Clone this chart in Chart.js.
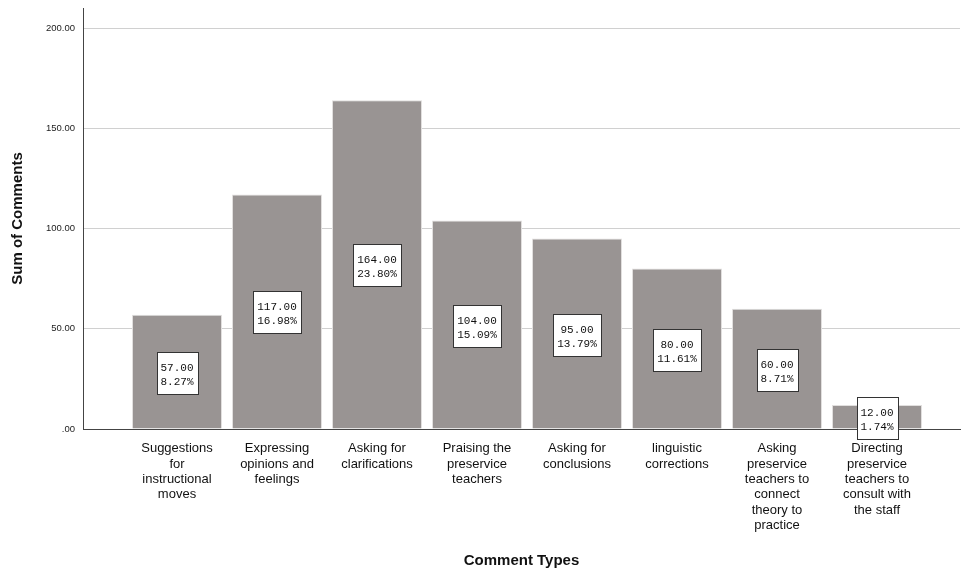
<!DOCTYPE html>
<html><head><meta charset="utf-8">
<script src="https://cdn.jsdelivr.net/npm/chart.js@4/dist/chart.umd.min.js"></script>
<style>html,body{margin:0;padding:0;background:#fff}#wrap{width:961px;height:572px}</style>
</head><body><div id="wrap"><canvas id="c" width="961" height="572"></canvas></div>
<script>
const categories = [
  ["Suggestions","for","instructional","moves"],
  ["Expressing","opinions and","feelings"],
  ["Asking for","clarifications"],
  ["Praising the","preservice","teachers"],
  ["Asking for","conclusions"],
  ["linguistic","corrections"],
  ["Asking","preservice","teachers to","connect","theory to","practice"],
  ["Directing","preservice","teachers to","consult with","the staff"]
];
const sums = [57, 117, 164, 104, 95, 80, 60, 12];
const percents = [8.27, 16.98, 23.80, 15.09, 13.79, 11.61, 8.71, 1.74];
const yTicks = [0, 50, 100, 150, 200];

const labelPlugin = {
  id: 'boxLabels',
  afterDatasetsDraw(chart) {
    const ctx = chart.ctx;
    const meta = chart.getDatasetMeta(0);
    ctx.save();
    ctx.font = '11px "Liberation Mono", "DejaVu Sans Mono", monospace';
    ctx.textAlign = 'center';
    ctx.textBaseline = 'middle';
    meta.data.forEach((bar, i) => {
      const l1 = sums[i].toFixed(2);
      const l2 = percents[i].toFixed(2) + '%';
      const w = Math.round(Math.max(ctx.measureText(l1).width, ctx.measureText(l2).width) + 8);
      const h = 42;
      const cx = Math.round(bar.x);
      const cy = Math.round((bar.y + bar.base) / 2 + 1);
      const x0 = Math.round(cx - w / 2) + 0.5, y0 = Math.round(cy - h / 2) + 0.5;
      ctx.fillStyle = '#ffffff';
      ctx.fillRect(x0, y0, w, h);
      ctx.strokeStyle = '#333333';
      ctx.lineWidth = 1;
      ctx.strokeRect(x0, y0, w, h);
      ctx.fillStyle = '#111111';
      ctx.fillText(l1, cx, cy - 5);
      ctx.fillText(l2, cx, cy + 9);
    });
    ctx.restore();
  }
};

new Chart(document.getElementById('c'), {
  type: 'bar',
  data: {
    datasets: [{
      data: sums.map((v, i) => ({x: i, y: v})),
      backgroundColor: 'rgb(153,148,147)',
      borderColor: 'rgb(225,223,222)',
      borderWidth: 1,
      barPercentage: 1,
      categoryPercentage: 0.9
    }]
  },
  options: {
    responsive: false,
    animation: false,
    layout: {padding: {top: 8, right: 1, left: 0, bottom: 0}},
    plugins: {legend: {display: false}, tooltip: {enabled: false}},
    scales: {
      x: {
        type: 'linear',
        bounds: 'data',
        offset: false,
        min: -0.94, max: 7.83,
        afterBuildTicks: s => { s.ticks = categories.map((_, i) => ({value: i})); },
        afterFit: s => { s.height = 143; s.paddingLeft = 0; s.paddingRight = 0; },
        grid: {display: false, drawTicks: false, offset: false},
        border: {display: true, color: '#444', width: 1},
        ticks: {
          autoSkip: false, maxRotation: 0, minRotation: 0, padding: 12,
          color: '#111',
          font: {family: '"Liberation Sans", Arial, sans-serif', size: 13, lineHeight: 1.18},
          callback: v => categories[v]
        },
        title: {
          display: true, text: 'Comment Types', color: '#111',
          font: {family: '"Liberation Sans", Arial, sans-serif', size: 15, weight: 'bold'},
          padding: {top: 0, bottom: 2}
        }
      },
      y: {
        bounds: 'data',
        min: 0, max: 210,
        afterBuildTicks: s => { s.ticks = yTicks.map(v => ({value: v})); },
        afterFit: s => { s.width = 83; s.paddingTop = 0; s.paddingBottom = 0; },
        grid: {color: '#d0d0d0', drawTicks: false, lineWidth: 1},
        border: {display: true, color: '#444', width: 1},
        ticks: {
          padding: 8, color: '#222',
          font: {family: '"Liberation Sans", Arial, sans-serif', size: 9.5},
          callback: v => v === 0 ? '.00' : v.toFixed(2)
        },
        title: {
          display: true, text: 'Sum of Comments', color: '#111',
          font: {family: '"Liberation Sans", Arial, sans-serif', size: 15, weight: 'bold'},
          padding: {top: 9, bottom: 0}
        }
      }
    }
  },
  plugins: [labelPlugin]
});
</script></body></html>
